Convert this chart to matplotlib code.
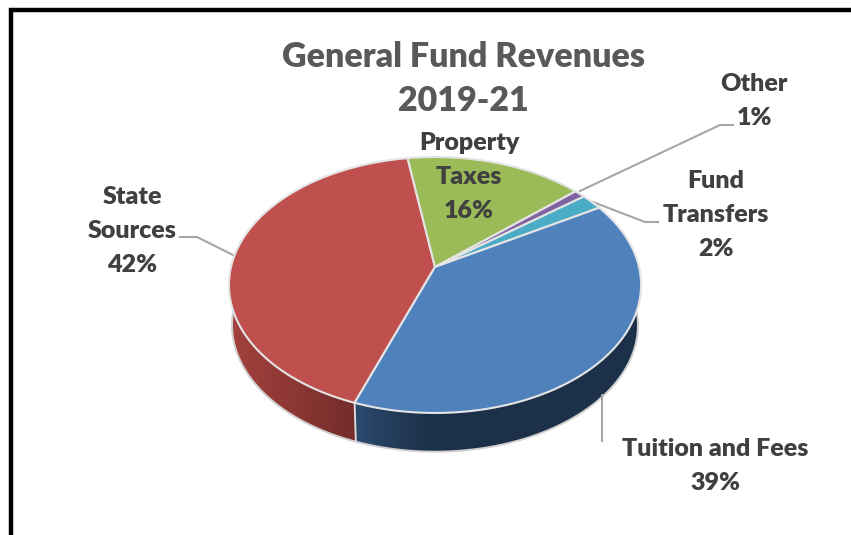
import numpy as np
import matplotlib
matplotlib.use('Agg')
import matplotlib.pyplot as plt
from matplotlib.colors import LinearSegmentedColormap
from matplotlib.patches import Polygon

plt.rcParams['font.family'] = ['Lato', 'DejaVu Sans']

# Revenue shares, clockwise from the front of the pie
categories = ['State Sources', 'Property Taxes', 'Other', 'Fund Transfers', 'Tuition and Fees']
shares = [42, 16, 1, 2, 39]
slice_colors = ['#c0504d', '#9bbb59', '#8064a2', '#4bacc6', '#4f81bd']
title_lines = ['General Fund Revenues', '2019-21']

START_ANGLE = 250.0
CX, APEX_Y, TILT, FORESHORTEN, RADIUS = 435.0, 267.0, 0.1406, 87.9, 204.0
TOP_CY, BOTTOM_CY, BOTTOM_SCALE = 285.0, 325.0, 0.985


def project(theta, wall=False):
	"""
	:param theta: angle(s) on the pie in degrees
	:param wall: True for the lower rim of the pie
	Tilted-circle projection of the pie rim to pixel coordinates
	"""
	t = np.radians(theta)
	u, v = np.cos(t), np.sin(t)
	w = 1 + TILT * v
	x = CX + RADIUS * u / w
	y = (APEX_Y - FORESHORTEN * v) / w
	if wall:
		x = CX + (x - CX) * BOTTOM_SCALE
		y = BOTTOM_CY + (y - TOP_CY) * 0.99
	return x, y


def draw_wall(ax, th0, th1, colors):
	"""Side of the pie between two angles, shaded left to right"""
	th = np.linspace(th0, th1, 120)
	xt, yt = project(th)
	xb, yb = project(th, wall=True)
	pts = np.column_stack([np.r_[xt, xb[::-1]], np.r_[yt, yb[::-1]]])
	poly = Polygon(pts, closed=True, facecolor='none', edgecolor='none')
	ax.add_patch(poly)
	cmap = LinearSegmentedColormap.from_list('wall', colors)
	im = ax.imshow(np.linspace(0, 1, 256).reshape(1, -1), cmap=cmap, aspect='auto',
	               extent=(pts[:, 0].min(), pts[:, 0].max(), pts[:, 1].max(), pts[:, 1].min()),
	               zorder=1)
	im.set_clip_path(poly)
	ax.plot(xb, yb, color='#cfcfcf', lw=1.4, zorder=2, solid_capstyle='round')
	ax.plot([xt[0], xb[0]], [yt[0], yb[0]], color='#d9d9d9', lw=1.4, zorder=2)


def centered_lines(ax, x, y, lines, size, color, step=34):
	for i, line in enumerate(lines):
		ax.text(x, y + i * step, line, ha='center', va='center', fontsize=size,
		        fontweight='heavy', color=color, zorder=5)


fig = plt.figure(figsize=(8.51, 5.35), dpi=100)
ax = fig.add_axes([0, 0, 1, 1])

# Outer frame, open on the right and at the bottom
ax.plot([11, 11, 851], [535, 10, 10], color='black', lw=3.2, solid_joinstyle='miter', zorder=4)

# Walls first, the top face goes over them
edges = START_ANGLE - np.cumsum([0] + shares) * 3.6
draw_wall(ax, 180, edges[0], ['#a4423e', '#742c2a'])
draw_wall(ax, edges[0], 360, ['#2b4a6e', '#1c3049', '#1c3049', '#1c3049', '#1c3049'])

# Top face
for i, color in enumerate(slice_colors):
	th = np.linspace(edges[i], edges[i + 1], 100)
	x, y = project(th)
	ax.fill(np.r_[CX, x], np.r_[APEX_Y, y], facecolor=color, edgecolor='#e4e4e4',
	        lw=1.5, joinstyle='round', zorder=3)

# Leader lines
leader = dict(color='#a6a6a6', lw=1.5, zorder=2.5)
ax.plot([580, 720, 733], [191, 125, 125], **leader)
ax.plot([593, 645, 658], [202, 222, 222], **leader)
ax.plot([180, 197, 233], [237, 237, 255], **leader)
ax.plot([602, 602], [395, 441], **leader)

# Title and labels
centered_lines(ax, 463, 57, title_lines, 24.5, '#595959', step=44)
label_color = '#404040'
centered_lines(ax, 132, 197, ['State', 'Sources', f'{shares[0]}%'], 18, label_color)
centered_lines(ax, 469, 143, ['Property', 'Taxes', f'{shares[1]}%'], 18, label_color)
centered_lines(ax, 754, 84, ['Other', f'{shares[2]}%'], 18, label_color)
centered_lines(ax, 716, 181, ['Fund', 'Transfers', f'{shares[3]}%'], 18, label_color)
centered_lines(ax, 715, 449, ['Tuition and Fees', f'{shares[4]}%'], 18, label_color)

ax.set_xlim(0, 851)
ax.set_ylim(535, 0)
ax.axis('off')
plt.savefig('out.png', dpi=100)
